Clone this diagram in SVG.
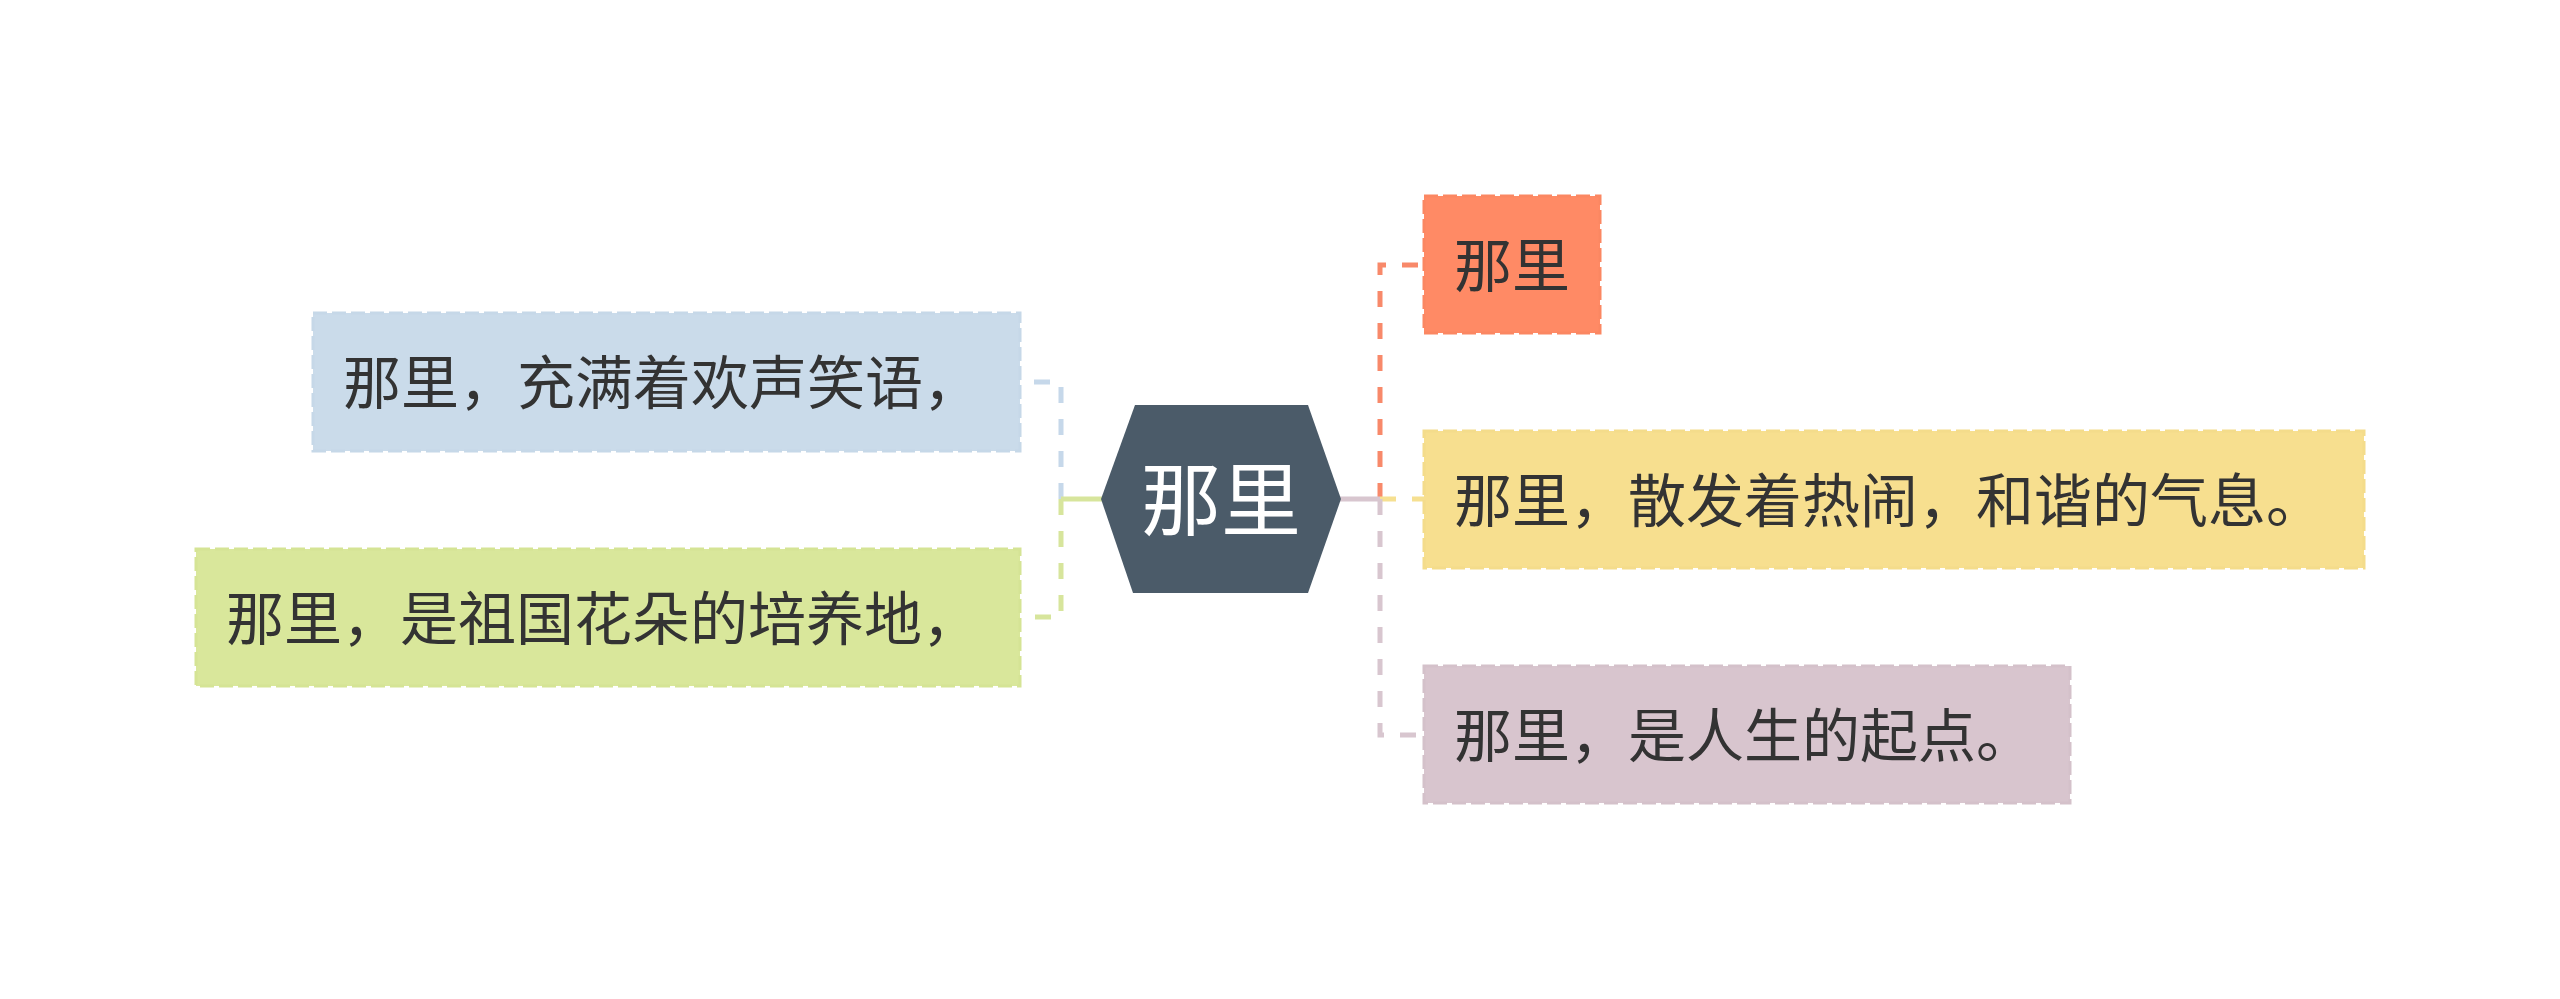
<svg xmlns="http://www.w3.org/2000/svg" width="2560" height="999" viewBox="0 0 2560 999">
<style>
.t{font-family:"Noto Sans CJK SC","Noto Sans",sans-serif;font-size:58px;fill:#333333}
.c{fill:none;stroke-width:5}
.d{stroke-dasharray:16 16}
.box{stroke-width:3;stroke-dasharray:14 5}
</style>
<rect width="2560" height="999" fill="#ffffff"/>
<g id="connectors">
<path class="c d" stroke="#c6d8ea" d="M1061,499 V382 H1020"/>
<path class="c d" stroke="#d7e59c" d="M1061,499 V617 H1020"/>
<path class="c" stroke="#d7e59c" d="M1102,499 H1061"/>
<path class="c d" stroke="#f8896a" d="M1380,499 V265 H1424"/>
<path class="c d" stroke="#f6e091" d="M1380,499 H1424"/>
<path class="c d" stroke="#d8c6cf" d="M1380,499 V735 H1424"/>
<path class="c" stroke="#d8c6cf" d="M1340,499 H1380"/>
</g>
<g id="center">
<polygon points="1135,405 1308,405 1341,499 1308,593 1133,593 1101,499" fill="#4b5b69"/>
<text x="1221" y="529" text-anchor="middle" style="font-family:'Noto Sans CJK SC','Noto Sans',sans-serif;font-size:80px;fill:#ffffff">那里</text>
</g>
<g id="node-blue">
<rect class="box" x="313" y="313" width="707" height="138" fill="#cadbea" stroke="#c6d8e8"/>
<text class="t" x="343" y="404">那里，充满着欢声笑语，</text>
</g>
<g id="node-green">
<rect class="box" x="196" y="549" width="824" height="137" fill="#d9e79b" stroke="#d5e495"/>
<text class="t" x="226" y="640">那里，是祖国花朵的培养地，</text>
</g>
<g id="node-orange">
<rect class="box" x="1424" y="196" width="176" height="137" fill="#ff8a65" stroke="#fb8762"/>
<text class="t" x="1454" y="287">那里</text>
</g>
<g id="node-yellow">
<rect class="box" x="1424" y="431" width="940" height="137" fill="#f7df8f" stroke="#f4dc8b"/>
<text class="t" x="1454" y="522">那里，散发着热闹，和谐的气息。</text>
</g>
<g id="node-purple">
<rect class="box" x="1424" y="666" width="646" height="137" fill="#d8c5ce" stroke="#d4c1ca"/>
<text class="t" x="1454" y="757">那里，是人生的起点。</text>
</g>
</svg>
